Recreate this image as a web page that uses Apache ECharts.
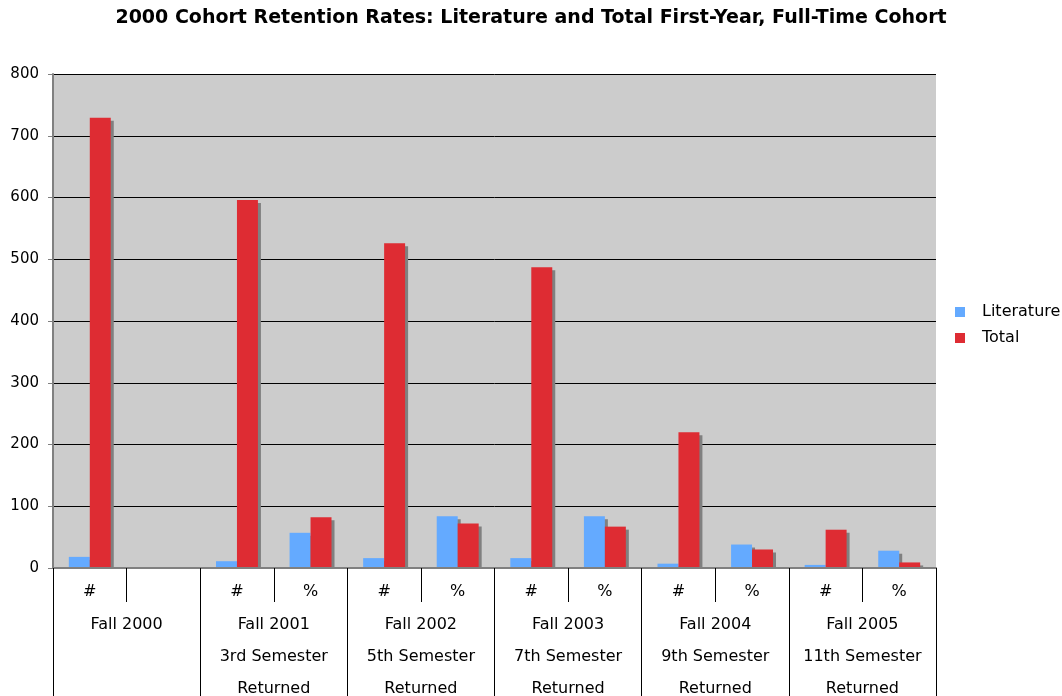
<!DOCTYPE html>
<html>
<head>
<meta charset="utf-8">
<script src="https://cdn.jsdelivr.net/npm/echarts@6/dist/echarts.min.js"></script>
<style>html,body{margin:0;padding:0;background:#fff;}#c{width:1062px;height:696px;}</style>
</head>
<body>
<div id="c"></div>
<script>
const titleText = '2000 Cohort Retention Rates: Literature and Total First-Year, Full-Time Cohort';
const subCategories = ['#', '', '#', '%', '#', '%', '#', '%', '#', '%', '#', '%'];
const groupLabels = ['Fall 2000', 'Fall 2001\n3rd Semester\nReturned', 'Fall 2002\n5th Semester\nReturned', 'Fall 2003\n7th Semester\nReturned', 'Fall 2004\n9th Semester\nReturned', 'Fall 2005\n11th Semester\nReturned'];
const literature = [18, null, 11, 57, 16, 84, 16, 84, 7, 38, 5, 28];
const total = [729, null, 596, 82, 526, 72, 487, 67, 220, 30, 62, 9];
const yTicks = [0, 800, 100];

const FONT = 'DejaVu Sans';
const chart = echarts.init(document.getElementById('c'), null, {renderer: 'canvas'});
chart.setOption({
  animation: false,
  backgroundColor: '#ffffff',
  textStyle: {fontFamily: FONT},
  title: {
    text: titleText, left: 'center', top: 4,
    textStyle: {fontFamily: FONT, fontSize: 19, fontWeight: 'bold', color: '#000'}
  },
  legend: {
    orient: 'vertical', left: 955, top: 304, padding: 0,
    icon: 'rect', itemWidth: 10, itemHeight: 10, itemGap: 10,
    textStyle: {fontFamily: FONT, fontSize: 16, color: '#000', lineHeight: 14, padding: [0, 0, 0, 12]},
    data: ['Literature', 'Total']
  },
  grid: {left: 53, right: 126, top: 74, bottom: 128, show: true, backgroundColor: '#cccccc', borderWidth: 0, containLabel: false, outerBoundsMode: 'none'},
  xAxis: [
    {
      type: 'category', data: subCategories, position: 'bottom', z: 10,
      axisLine: {show: true, lineStyle: {color: '#808080', width: 2}},
      axisTick: {show: true, length: 34, interval: 0, lineStyle: {color: '#000', width: 1}},
      axisLabel: {interval: 0, margin: 16, fontFamily: FONT, fontSize: 16, color: '#000'}
    },
    {
      type: 'category', data: groupLabels, position: 'bottom', z: 10,
      axisLine: {show: false},
      axisTick: {show: true, length: 128, interval: 0, lineStyle: {color: '#000', width: 1}},
      axisLabel: {interval: 0, margin: 41, fontFamily: FONT, fontSize: 16, color: '#000', lineHeight: 32, verticalAlign: 'top'}
    }
  ],
  yAxis: {
    type: 'value', min: yTicks[0], max: yTicks[1], interval: yTicks[2],
    axisLine: {show: true, lineStyle: {color: '#808080', width: 2}},
    axisTick: {show: true, length: 5, lineStyle: {color: '#808080'}},
    axisLabel: {fontFamily: FONT, fontSize: 15, color: '#000', margin: 14},
    splitLine: {show: true, lineStyle: {color: '#000', width: 1}}
  },
  series: [
    {
      name: 'Literature', type: 'bar', data: literature, xAxisIndex: 0,
      barGap: '0%', barCategoryGap: '43%',
      itemStyle: {color: '#64aaff', shadowColor: '#808080', shadowOffsetX: 3, shadowOffsetY: 3, shadowBlur: 0}
    },
    {
      name: 'Total', type: 'bar', data: total, xAxisIndex: 0,
      barGap: '0%', barCategoryGap: '43%',
      itemStyle: {color: '#de2c33', shadowColor: '#808080', shadowOffsetX: 3, shadowOffsetY: 3, shadowBlur: 0}
    }
  ]
});
// hide the part of the bar shadows that falls below the category axis line
const zeroY = chart.convertToPixel({yAxisIndex: 0}, 0);
const rect = chart.getModel().getComponent('grid').coordinateSystem.getRect();
chart.setOption({
  graphic: [{
    type: 'rect', z: 5,
    shape: {x: rect.x + 1, y: zeroY + 1, width: rect.width + 6, height: 5},
    style: {fill: '#ffffff'}
  }]
});
</script>
</body>
</html>
